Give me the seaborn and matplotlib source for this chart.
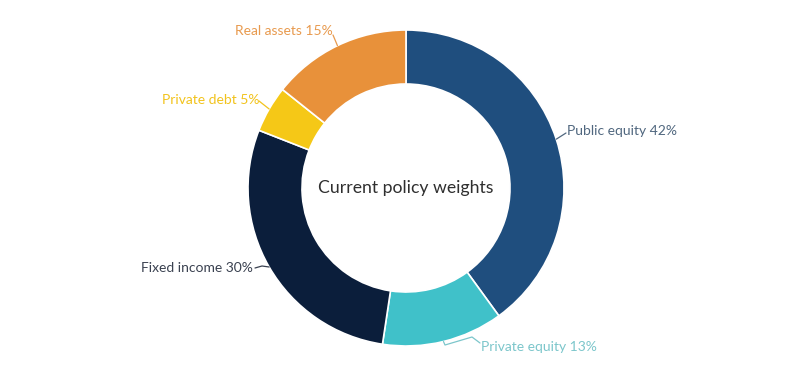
import numpy as np
import seaborn as sns
from matplotlib import pyplot as plt

# policy weights, clockwise from the top
categories = ["Public equity", "Private equity", "Fixed income", "Private debt", "Real assets"]
weights = [42, 13, 30, 5, 15]
slice_colors = ["#1f4e7e", "#40c1c9", "#0b1e3b", "#f5c817", "#e8913a"]
label_colors = ["#50677f", "#7cc6cb", "#3a4150", "#f2c31c", "#e89a4e"]

sns.set_theme(style="white")
plt.rcParams['font.family'] = ['Lato', 'DejaVu Sans']

fig = plt.figure(figsize=(8, 3.69), dpi=100)
ax = fig.add_axes([0, 0, 1, 1])

cx, cy, r = 406, 181, 158
wedges, _ = ax.pie(weights, colors=slice_colors, startangle=90, counterclock=False,
                   radius=r, center=(cx, cy),
                   wedgeprops=dict(width=54, edgecolor="white", linewidth=1.2))
ax.set_xlim(0, 800)
ax.set_ylim(0, 369)
ax.set_aspect("equal")
ax.axis("off")

ax.text(cx, cy, "Current policy weights", ha="center", va="center",
        fontsize=12.7, color="#2f2f2f")

# label text anchor and leader path (after the point on the arc)
label_spec = {
    "Public equity": dict(xy=(567, 238), ha="left", path=[(566, 236)]),
    "Private equity": dict(xy=(481, 22), ha="left", path=[(445, 24), (472, 32), (480, 26)]),
    "Fixed income": dict(xy=(253, 101), ha="right", path=[(262, 103), (255, 101)]),
    "Private debt": dict(xy=(259, 269), ha="right", path=[(259, 268)]),
    "Real assets": dict(xy=(333, 338), ha="right", path=[(333, 334)]),
}

for w, name, val, lc in zip(wedges, categories, weights, label_colors):
    mid = np.deg2rad((w.theta1 + w.theta2) / 2)
    px, py = cx + r * np.cos(mid), cy + r * np.sin(mid)
    spec = label_spec[name]
    pts = [(px, py)] + spec["path"]
    ax.plot([p[0] for p in pts], [p[1] for p in pts], color=lc, lw=0.9)
    ax.text(spec["xy"][0], spec["xy"][1], f"{name} {val}%", ha=spec["ha"], va="center",
            fontsize=10, color=lc)

fig.savefig("out.png", dpi=100)
